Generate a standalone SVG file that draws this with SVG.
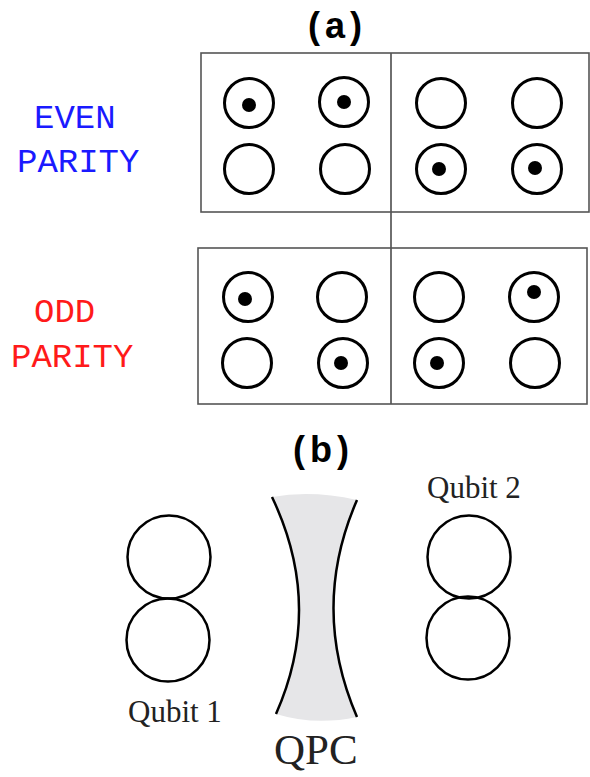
<svg xmlns="http://www.w3.org/2000/svg" width="590" height="777" viewBox="0 0 590 777">
<style>
.box{fill:none;stroke:#555;stroke-width:1.6}
.div{stroke:#222;stroke-width:1.3}
.c{fill:none;stroke:#000;stroke-width:3}
.d{fill:#000}
.lbl{font-family:"Liberation Sans",Arial,sans-serif;font-weight:bold;font-size:36px;letter-spacing:5px;fill:#000}
.mono{font-family:"Liberation Mono","Courier New",monospace;font-size:34px}
.serif{font-family:"Liberation Serif","Times New Roman",serif;fill:#222}
.q{fill:none;stroke:#000;stroke-width:2.5}
</style>
<rect width="590" height="777" fill="#fff"/>
<text class="lbl" x="308" y="38">(a)</text>
<text class="lbl" x="293" y="462">(b)</text>
<g id="even-label">
<text class="mono" x="34" y="128" fill="#1a1aff">EVEN</text>
<text class="mono" x="17" y="172" fill="#1a1aff">PARITY</text>
</g>
<g id="odd-label">
<text class="mono" x="34" y="322" fill="#ff1a1a">ODD</text>
<text class="mono" x="11" y="367" fill="#ff1a1a">PARITY</text>
</g>
<g id="connectors">
<line class="div" x1="391" y1="53" x2="391" y2="404"/>
</g>
<g id="even-box">
<rect class="box" x="201" y="53" width="388" height="159"/>
<circle class="c" cx="249" cy="103" r="24.5"/><circle class="d" cx="249" cy="105" r="7"/>
<circle class="c" cx="344" cy="102" r="24.5"/><circle class="d" cx="344" cy="102" r="7"/>
<circle class="c" cx="441" cy="103" r="24.5"/>
<circle class="c" cx="537" cy="103" r="24.5"/>
<circle class="c" cx="249" cy="169" r="24.5"/>
<circle class="c" cx="345" cy="169" r="24.5"/>
<circle class="c" cx="441" cy="169" r="24.5"/><circle class="d" cx="439" cy="169" r="7"/>
<circle class="c" cx="537" cy="169" r="24.5"/><circle class="d" cx="535" cy="168" r="7"/>
</g>
<g id="odd-box">
<rect class="box" x="198" y="248" width="389" height="156"/>
<circle class="c" cx="248" cy="297" r="24.5"/><circle class="d" cx="245" cy="299" r="7"/>
<circle class="c" cx="342" cy="297" r="24.5"/>
<circle class="c" cx="439" cy="297" r="24.5"/>
<circle class="c" cx="534" cy="297" r="24.5"/><circle class="d" cx="534" cy="292" r="7"/>
<circle class="c" cx="247" cy="363" r="24.5"/>
<circle class="c" cx="343" cy="363" r="24.5"/><circle class="d" cx="341" cy="363" r="7"/>
<circle class="c" cx="439" cy="363" r="24.5"/><circle class="d" cx="437" cy="363" r="7"/>
<circle class="c" cx="535" cy="363" r="24.5"/>
</g>
<g id="qubit1">
<circle class="q" cx="169" cy="557" r="41.5"/>
<circle class="q" cx="168" cy="640" r="41.5"/>
<text class="serif" x="128" y="722" font-size="31">Qubit 1</text>
</g>
<g id="qpc">
<path d="M272,497 Q312,490 357,500 Q310,608 357,717 Q315,726 276,714 Q324,606 272,497 Z" fill="#e6e6e8"/>
<path class="q" d="M272,497 Q324,606 276,714"/>
<path class="q" d="M357,500 Q310,608 357,717"/>
<text class="serif" x="274" y="764" font-size="43">QPC</text>
</g>
<g id="qubit2">
<circle class="q" cx="469" cy="557" r="41.5"/>
<circle class="q" cx="468" cy="638" r="41.5"/>
<text class="serif" x="427" y="498" font-size="31">Qubit 2</text>
</g>
</svg>
